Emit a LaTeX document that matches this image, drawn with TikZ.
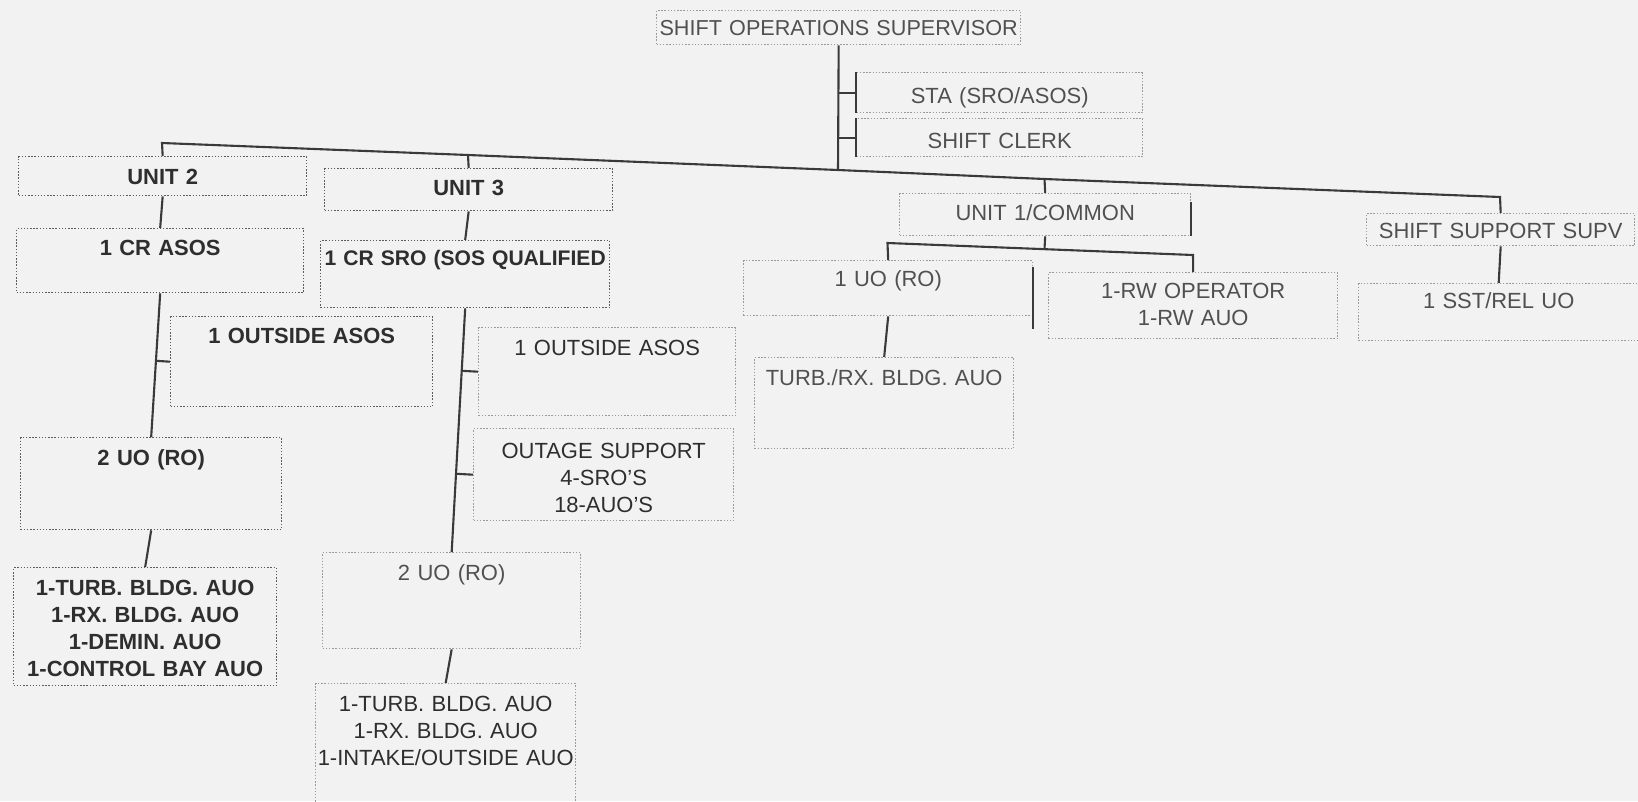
\documentclass[tikz,border=0pt]{standalone}
\usepackage{fontspec}
\setmainfont{Liberation Sans}
\usepackage{xcolor}
\definecolor{paper}{HTML}{F2F2F2}
\definecolor{ink}{HTML}{2E2E2E}
\definecolor{inklight}{HTML}{505050}
\definecolor{wire}{HTML}{3A3A3A}
\definecolor{dots}{HTML}{9A9A9A}
\definecolor{dotsdark}{HTML}{5C5C5C}
\usetikzlibrary{calc}

\begin{document}
\begin{tikzpicture}[x=0.02cm, y=-0.02cm, font=\fontsize{12.5}{15.4}\selectfont,
  post/.style={draw=dots, densely dotted, line width=0.8pt, inner sep=0pt,
               align=center, anchor=north west, text=inklight},
  postdark/.style={post, draw=dotsdark, text=ink,
               font=\fontsize{12.5}{15.4}\selectfont\bfseries},
  link/.style={draw=wire, line width=1.2pt},
  bar/.style={draw=wire, line width=1.0pt}]
  \fill[paper] (0,0) rectangle (1638,801);
  \useasboundingbox (0,0) rectangle (1638,801);

  % top of the chart
  \node[post, font=\fontsize{12.3}{15.4}\selectfont, text width=7.28cm, text height=0.50cm, text depth=0.18cm] (sos) at (656,10) {SHIFT OPERATIONS SUPERVISOR};
  \node[post, text width=5.72cm, text height=0.62cm, text depth=0.18cm] (sta) at (856,72) {STA (SRO/ASOS)};
  \node[post, text width=5.72cm, text height=0.60cm, text depth=0.16cm] (clerk) at (856,118) {SHIFT CLERK};

  % unit 2
  \node[postdark, text width=5.76cm, text height=0.56cm, text depth=0.22cm] (u2) at (18,156) {UNIT 2};
  \node[postdark, text width=5.74cm, text height=0.54cm, text depth=0.74cm] (u2cr) at (16,228) {1 CR ASOS};
  \node[postdark, text width=5.24cm, text height=0.54cm, text depth=1.26cm] (u2out) at (170,316) {1 OUTSIDE ASOS};
  \node[postdark, text width=5.22cm, text height=0.56cm, text depth=1.28cm] (u2uo) at (20,437) {2 UO (RO)};
  \node[postdark, text width=5.26cm, text height=0.56cm, text depth=1.80cm] (u2aux) at (13,567)
       {1-TURB. BLDG. AUO\\1-RX. BLDG. AUO\\1-DEMIN. AUO\\1-CONTROL BAY AUO};

  % unit 3
  \node[postdark, text width=5.76cm, text height=0.54cm, text depth=0.30cm] (u3) at (324,168) {UNIT 3};
  \node[postdark, font=\fontsize{12}{15.4}\selectfont\bfseries, text width=5.78cm, text height=0.50cm, text depth=0.84cm] (u3cr) at (320,240) {1 CR SRO (SOS QUALIFIED};
  \node[post, text=ink, text width=5.14cm, text height=0.56cm, text depth=1.20cm] (u3out) at (478,327) {1 OUTSIDE ASOS};
  \node[post, text=ink, text width=5.20cm, text height=0.60cm, text depth=1.24cm] (u3og) at (473,428)
       {OUTAGE SUPPORT\\4-SRO'S\\18-AUO'S};
  \node[post, text width=5.16cm, text height=0.56cm, text depth=1.36cm] (u3uo) at (322,552) {2 UO (RO)};
  \node[post, text=ink, text width=5.20cm, text height=0.56cm, text depth=2.02cm] (u3aux) at (315,683)
       {1-TURB. BLDG. AUO\\1-RX. BLDG. AUO\\1-INTAKE/OUTSIDE AUO};

  % unit 1 / common
  \node[post, text width=5.82cm, text height=0.54cm, text depth=0.30cm] (u1) at (899,193) {UNIT 1/COMMON};
  \node[post, text width=5.78cm, text height=0.52cm, text depth=0.58cm] (u1uo) at (743,260) {1 UO (RO)};
  \node[post, text width=5.78cm, text height=0.52cm, text depth=0.80cm] (u1rw) at (1048,272) {1-RW OPERATOR\\1-RW AUO};
  \node[post, text width=5.18cm, text height=0.56cm, text depth=1.26cm] (u1tr) at (754,357) {TURB./RX. BLDG. AUO};

  % shift support
  \node[post, text width=5.36cm, text height=0.50cm, text depth=0.14cm] (ssup) at (1366,213) {SHIFT SUPPORT SUPV};
  \node[post, text width=5.60cm, text height=0.50cm, text depth=0.64cm] (ssst) at (1358,283) {1 SST/REL UO};

  % main bus (the scan is slightly skewed)
  \coordinate (busL) at (162,143);
  \coordinate (bus3) at (468,155);
  \coordinate (bus0) at (838,170);
  \coordinate (bus1) at (1044.5,179);
  \coordinate (busR) at (1500,197);
  \draw[link] (u2.north) -- (busL) -- (bus3) -- (bus0) -- (bus1) -- (busR) -- (ssup.north);
  \draw[link] (u3.north) -- (bus3);
  \draw[link] (u1.north) -- (bus1);
  \draw[link] (sos.south) -- (bus0);
  \draw[link] (sta.west) -- (sta.west -| sos.south);
  \draw[link] (clerk.west) -- (clerk.west -| sos.south);
  \draw[bar] (sta.north west) -- (sta.south west);
  \draw[bar] (clerk.north west) -- (clerk.south west);

  \draw[link] (u2.south) -- (u2cr.north);
  \draw[link] (u2cr.south) -- (u2uo.north);
  \draw[link] (u2out.west) -- ($(u2cr.south)!(u2out.west)!(u2uo.north)$);
  \draw[link] (u2uo.south) -- (u2aux.north);

  \draw[link] (u3.south) -- (u3cr.north);
  \draw[link] (u3cr.south) -- (u3uo.north);
  \draw[link] (u3out.west) -- ($(u3cr.south)!(u3out.west)!(u3uo.north)$);
  \draw[link] (u3og.west) -- ($(u3cr.south)!(u3og.west)!(u3uo.north)$);
  \draw[link] (u3uo.south) -- (u3aux.north);

  \coordinate (u1busL) at (887.5,243);
  \coordinate (u1bus) at (1044.5,249);
  \coordinate (u1busR) at (1193,255);
  \draw[link] (u1uo.north) -- (u1busL) -- (u1busR) -- (u1rw.north);
  \draw[link] (u1.south) -- (u1bus);
  \draw[link] (u1uo.south) -- (u1tr.north);
  \draw[bar] ([yshift=-0.18cm]u1.north east) -- (u1.south east);
  \draw[bar] ([yshift=-0.14cm]u1uo.north east) -- ([yshift=-0.26cm]u1uo.south east);

  \draw[link] (ssup.south) -- (ssst.north);
\end{tikzpicture}
\end{document}
